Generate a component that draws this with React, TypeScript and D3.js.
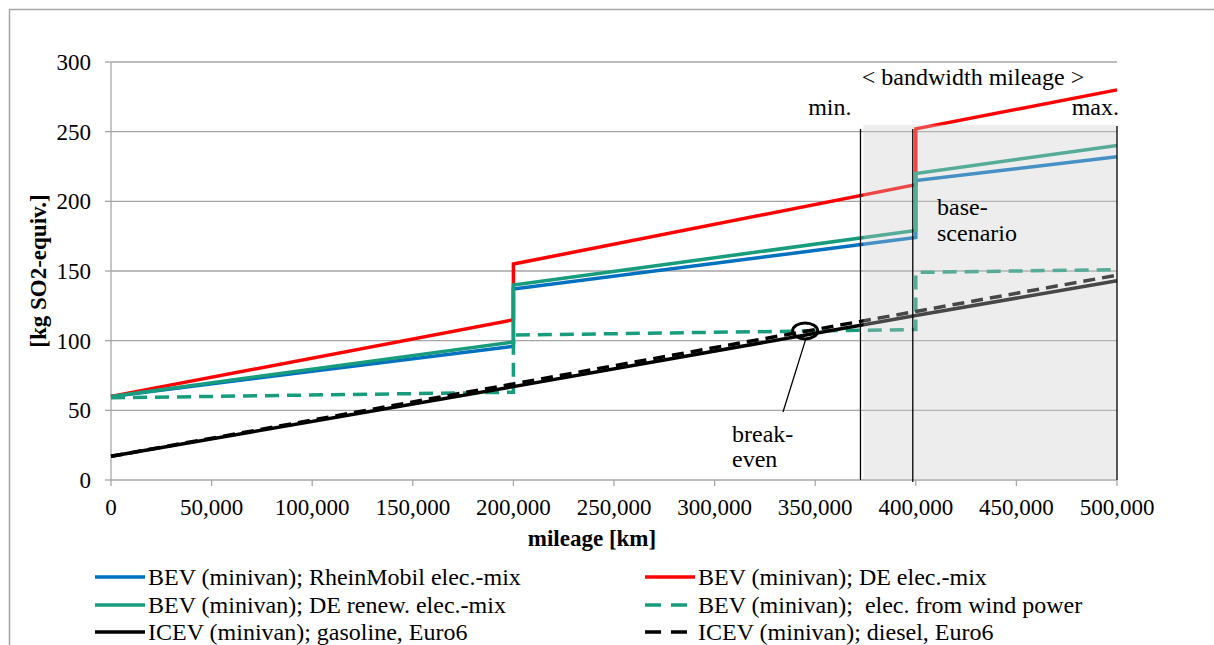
import React from 'react';
import * as d3 from 'd3';

// mileage break points (jumps at 200,000 and 400,000 km: battery replacement)
const mileageSteps = [0, 200000, 200000, 400000, 400000, 500000];

// kg SO2-equiv. at each break point
const bevRheinMobil = [60, 96, 137, 174, 215, 232];
const bevDeMix = [60, 115, 155, 212, 252, 280];
const bevDeRenew = [60, 99, 140, 179, 220, 240];
const bevWind = [59, 63, 104, 108, 149, 151];
const icevGasoline = [17, 67, 67, 118, 118, 143];
const icevDiesel = [17, 69, 69, 121, 121, 147];

const xTicks = [0, 50000, 100000, 150000, 200000, 250000, 300000, 350000, 400000, 450000, 500000];
const yTicks = [0, 50, 100, 150, 200, 250, 300];

// bandwidth annotation (km)
const bandMin = 372500;
const bandBase = 398500;
const bandMax = 500000;
const breakEven = { km: 345000, value: 107 };

const series = [
  { name: 'BEV (minivan); RheinMobil elec.-mix', values: bevRheinMobil, color: '#0070c0', dash: null, col: 0, row: 0 },
  { name: 'BEV (minivan); DE elec.-mix', values: bevDeMix, color: '#ff0000', dash: null, col: 1, row: 0 },
  { name: 'BEV (minivan); DE renew. elec.-mix', values: bevDeRenew, color: '#179c7d', dash: null, col: 0, row: 1 },
  { name: 'BEV (minivan);  elec. from wind power', values: bevWind, color: '#179c7d', dash: '14,8', col: 1, row: 1 },
  { name: 'ICEV (minivan); gasoline, Euro6', values: icevGasoline, color: '#000000', dash: null, col: 0, row: 2 },
  { name: 'ICEV (minivan); diesel, Euro6', values: icevDiesel, color: '#000000', dash: '12,7', col: 1, row: 2 },
];

const W = 1214;
const H = 645;
const margin = { left: 111, right: 97, top: 62, bottom: 165 };
const FONT = '"Liberation Serif", "Times New Roman", serif';

export default function App() {
  const x = d3.scaleLinear().domain([0, 500000]).range([margin.left, W - margin.right]);
  const y = d3.scaleLinear().domain([0, 300]).range([H - margin.bottom, margin.top]);
  const fmt = d3.format(',');

  const line = d3.line<number>()
    .x((_, i) => x(mileageSteps[i]))
    .y(d => y(d));

  const legendX = [95, 645];
  const legendY = [577, 605, 632];

  return (
    <svg width={W} height={H} style={{ position: 'absolute', left: 0, top: 0, background: '#fff' }} fontFamily={FONT}>
      <rect x={9.5} y={9.5} width={1220} height={660} fill="none" stroke="#a6a6a6" strokeWidth={1.5} />

      {/* grid */}
      {yTicks.filter(t => t > 0).map(t => (
        <line key={t} x1={x(0)} x2={x(500000)} y1={y(t)} y2={y(t)} stroke="#a6a6a6" strokeWidth={1.3} />
      ))}

      {/* axes */}
      <line x1={x(0)} x2={x(0)} y1={y(300)} y2={y(0)} stroke="#a6a6a6" strokeWidth={1.3} />
      <line x1={x(0)} x2={x(500000)} y1={y(0)} y2={y(0)} stroke="#a6a6a6" strokeWidth={1.3} />
      {yTicks.map(t => (
        <g key={t}>
          <line x1={x(0) - 6} x2={x(0)} y1={y(t)} y2={y(t)} stroke="#a6a6a6" strokeWidth={1.3} />
          <text x={x(0) - 20} y={y(t)} dy="0.35em" textAnchor="end" fontSize={23}>{t}</text>
        </g>
      ))}
      {xTicks.map(t => (
        <g key={t}>
          <line x1={x(t)} x2={x(t)} y1={y(0)} y2={y(0) + 6} stroke="#a6a6a6" strokeWidth={1.3} />
          <text x={x(t)} y={515} textAnchor="middle" fontSize={23}>{fmt(t)}</text>
        </g>
      ))}

      {/* series */}
      {series.map(s => (
        <path key={s.name} d={line(s.values) || ''} fill="none" stroke={s.color} strokeWidth={3.5}
          strokeDasharray={s.dash || undefined} strokeLinejoin="miter" />
      ))}

      {/* bandwidth shade */}
      <rect x={x(bandMin) + 3} y={y(255)} width={x(bandMax) - x(bandMin) - 3} height={y(0) - y(255)}
        fill="#cccccc" opacity={0.35} />
      <line x1={x(bandMin)} x2={x(bandMin)} y1={y(252)} y2={y(0)} stroke="#000" strokeWidth={1.3} />
      <line x1={x(bandBase)} x2={x(bandBase)} y1={y(252)} y2={y(0) + 2} stroke="#000" strokeWidth={1.3} />
      <line x1={x(bandMax)} x2={x(bandMax)} y1={y(254)} y2={y(0)} stroke="#000" strokeWidth={1.3} />

      <text x={973} y={85} textAnchor="middle" fontSize={24}>&lt; bandwidth mileage &gt;</text>
      <text x={x(bandMin) - 9} y={115} textAnchor="end" fontSize={24}>min.</text>
      <text x={x(bandMax) + 2} y={115} textAnchor="end" fontSize={24}>max.</text>
      <text x={937} y={215} fontSize={24}>base-</text>
      <text x={937} y={241} fontSize={24}>scenario</text>

      {/* break-even marker */}
      <ellipse cx={x(breakEven.km)} cy={y(breakEven.value)} rx={12.5} ry={8} fill="none" stroke="#000" strokeWidth={3} />
      <line x1={x(breakEven.km) + 1} y1={y(breakEven.value) + 7} x2={783} y2={412} stroke="#000" strokeWidth={1.3} />
      <text x={732} y={442} fontSize={24}>break-</text>
      <text x={732} y={467} fontSize={24}>even</text>

      {/* axis titles */}
      <text x={592} y={546} textAnchor="middle" fontSize={23} fontWeight="bold">mileage [km]</text>
      <text transform={`translate(46,${y(150)}) rotate(-90)`} textAnchor="middle" fontSize={23} fontWeight="bold">[kg SO2-equiv.]</text>

      {/* legend */}
      {series.map(s => (
        <g key={s.name}>
          <line x1={legendX[s.col]} x2={legendX[s.col] + 50} y1={legendY[s.row]} y2={legendY[s.row]}
            stroke={s.color} strokeWidth={3.5} strokeDasharray={s.dash ? '16,10' : undefined} />
          <text x={legendX[s.col] + 53} y={legendY[s.row]} dy="0.35em" fontSize={24}
            style={{ whiteSpace: 'pre' }}>{s.name}</text>
        </g>
      ))}
    </svg>
  );
}
